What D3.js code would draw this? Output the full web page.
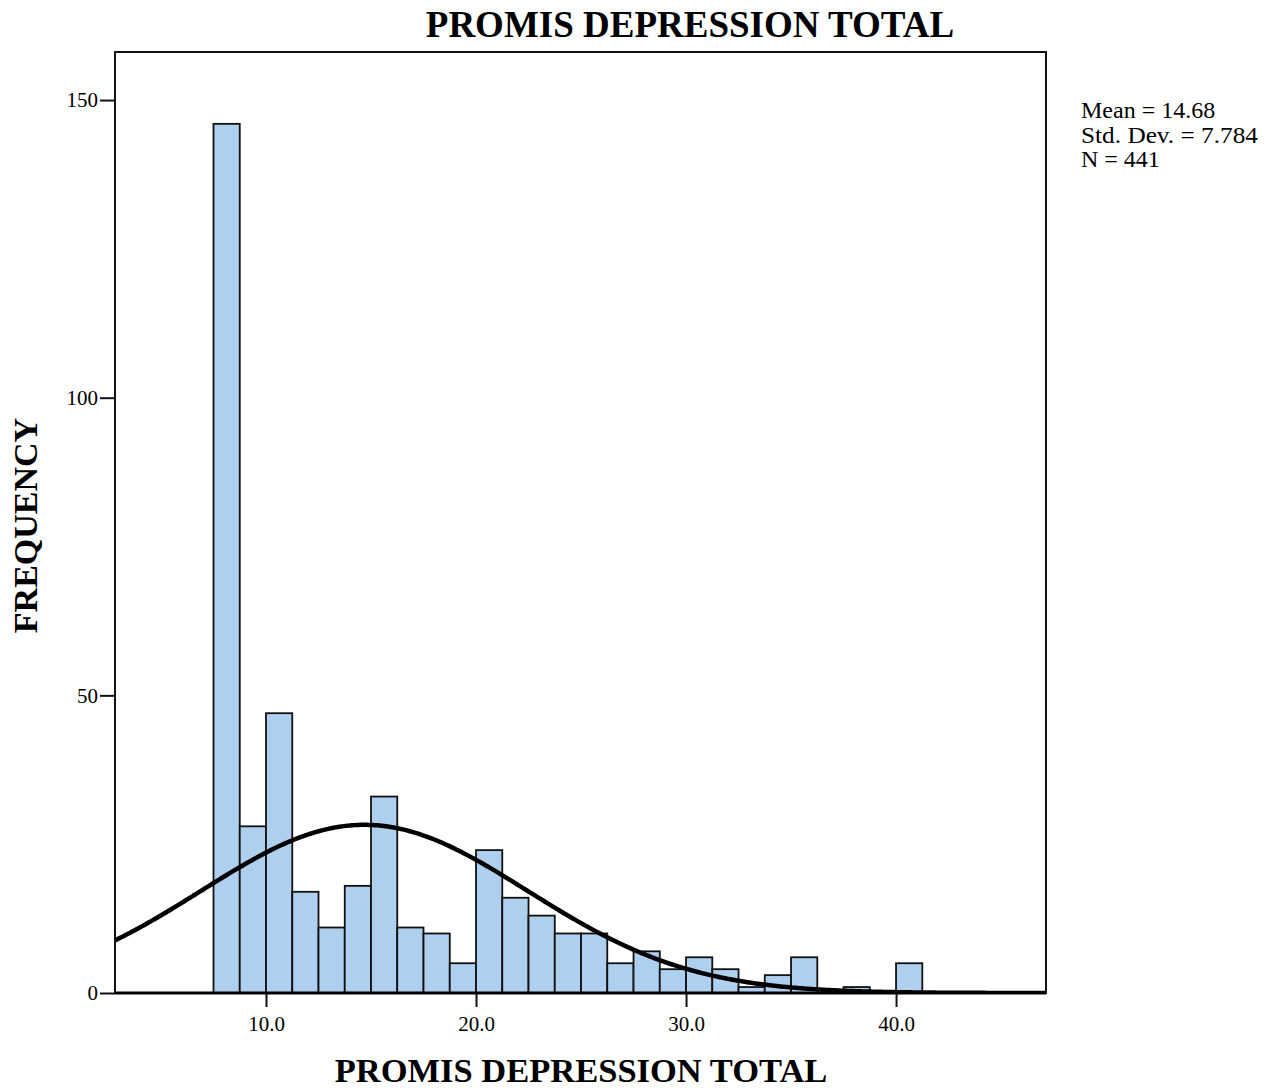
<!DOCTYPE html>
<html>
<head>
<meta charset="utf-8">
<script src="https://cdn.jsdelivr.net/npm/d3@7"></script>
<style>
  html, body { margin: 0; padding: 0; background: #fff; }
  svg text { font-family: "Liberation Serif", "Times New Roman", serif; fill: #000; }
</style>
</head>
<body>
<svg id="chart" width="1274" height="1089"></svg>
<script>
// ---- data ----
const title = "PROMIS DEPRESSION TOTAL";
const xLabel = "PROMIS DEPRESSION TOTAL";
const yLabel = "FREQUENCY";
const binStart = 7.5;
const binWidth = 1.25;
const counts = [146, 28, 47, 17, 11, 18, 33, 11, 10, 5, 24, 16, 13, 10, 10, 5, 7, 4, 6, 4, 1, 3, 6, 0, 1, 0, 5];
const xTicks = [10, 20, 30, 40];
const yTicks = [0, 50, 100, 150];
const stats = { mean: 14.68, sd: 7.784, n: 441 };
const statLines = ["Mean = 14.68", "Std. Dev. = 7.784", "N = 441"];

// ---- layout ----
const svg = d3.select("#chart");
const pL = 115, pR = 1046, pT = 52, pB = 993;
const x = d3.scaleLinear().domain([2.81, 47.14]).range([pL, pR]);
const y = d3.scaleLinear().domain([0, 158.07]).range([pB, pT]);

svg.append("defs").append("clipPath").attr("id", "plotclip")
  .append("rect").attr("x", pL).attr("y", pT).attr("width", pR - pL).attr("height", pB - pT);

// bars
const bins = counts.map((c, i) => ({ x0: binStart + i * binWidth, x1: binStart + (i + 1) * binWidth, c }));
svg.append("g").selectAll("rect").data(bins.filter(d => d.c > 0)).join("rect")
  .attr("x", d => x(d.x0))
  .attr("width", d => x(d.x1) - x(d.x0))
  .attr("y", d => y(d.c))
  .attr("height", d => y(0) - y(d.c))
  .attr("fill", "#aecfee")
  .attr("stroke", "#111")
  .attr("stroke-width", 1.8);

// normal curve
const pdf = v => stats.n * binWidth / (stats.sd * Math.sqrt(2 * Math.PI)) * Math.exp(-0.5 * Math.pow((v - stats.mean) / stats.sd, 2));
const xs = d3.range(x.domain()[0], x.domain()[1] + 0.05, 0.1);
svg.append("path")
  .attr("clip-path", "url(#plotclip)")
  .attr("d", d3.line().x(d => x(d)).y(d => y(pdf(d))).curve(d3.curveBasis)(xs))
  .attr("fill", "none")
  .attr("stroke", "#000")
  .attr("stroke-width", 4.5);

// frame
svg.append("rect").attr("x", pL).attr("y", pT).attr("width", pR - pL).attr("height", pB - pT)
  .attr("fill", "none").attr("stroke", "#111").attr("stroke-width", 2);
svg.append("line").attr("x1", pL).attr("x2", pR).attr("y1", pB).attr("y2", pB)
  .attr("stroke", "#000").attr("stroke-width", 3);

// axes
const xAxis = d3.axisBottom(x).tickValues(xTicks).tickFormat(d3.format(".1f")).tickSize(14).tickPadding(9);
const gx = svg.append("g").attr("transform", `translate(0,${pB})`).call(xAxis);
gx.select(".domain").remove();
gx.selectAll(".tick line").attr("stroke", "#111").attr("stroke-width", 2);
gx.selectAll(".tick text").attr("font-size", 21).attr("font-family", "Liberation Serif").attr("fill", "#222");

const yAxis = d3.axisLeft(y).tickValues(yTicks).tickFormat(d3.format("d")).tickSize(15).tickPadding(2);
const gy = svg.append("g").attr("transform", `translate(${pL},0)`).call(yAxis);
gy.select(".domain").remove();
gy.selectAll(".tick line").attr("stroke", "#111").attr("stroke-width", 2);
gy.selectAll(".tick text").attr("font-size", 21).attr("font-family", "Liberation Serif").attr("fill", "#222");

// titles
svg.append("text").attr("x", 690).attr("y", 37).attr("text-anchor", "middle")
  .attr("font-size", 37).attr("font-weight", "bold").text(title);
svg.append("text").attr("x", 581).attr("y", 1082).attr("text-anchor", "middle")
  .attr("font-size", 34.5).attr("font-weight", "bold").text(xLabel);
svg.append("text").attr("transform", `translate(37,${(pT + pB) / 2 + 3}) rotate(-90)`).attr("text-anchor", "middle")
  .attr("font-size", 34).attr("font-weight", "bold").text(yLabel);

// stats
svg.append("g").selectAll("text").data(statLines).join("text")
  .attr("x", 1081).attr("y", (d, i) => 118 + i * 24.5)
  .attr("font-size", 24).attr("textLength", (d, i) => i === 1 ? 177 : null)
  .attr("lengthAdjust", "spacingAndGlyphs")
  .text(d => d);
</script>
</body>
</html>
